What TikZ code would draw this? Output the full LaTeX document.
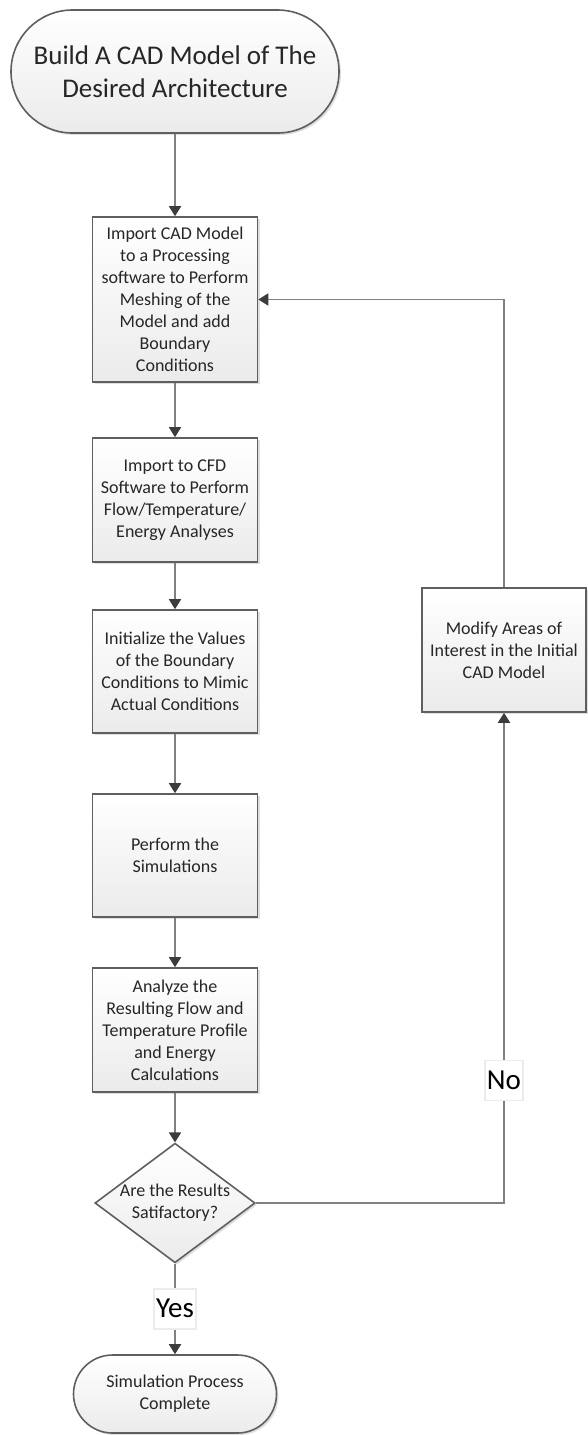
\documentclass[tikz,border=0pt]{standalone}
\usepackage{fontspec}
\setmainfont{Carlito}
\usetikzlibrary{arrows.meta,positioning,shapes.geometric,shapes.misc,shadows}

\definecolor{edgegray}{HTML}{5F5F5F}
\definecolor{linegray}{HTML}{808080}
\definecolor{tipgray}{HTML}{3C3C3C}
\definecolor{fillbot}{HTML}{EBEBEB}
\definecolor{txtgray}{HTML}{262626}

\tikzset{
  flowbox/.style={draw=edgegray, line width=1.6pt, top color=white, bottom color=fillbot,
    text=txtgray, align=center, font=\fontsize{18}{22}\selectfont,
    drop shadow={shadow xshift=2pt, shadow yshift=-2pt, opacity=0.25}},
  procbox/.style={flowbox, rectangle, minimum width=165pt, inner sep=2pt},
  termbox/.style={flowbox, rounded rectangle, inner sep=2pt},
  decbox/.style={flowbox, diamond, aspect=1.34, inner sep=0pt},
  flowline/.style={draw=linegray, line width=1.8pt, -{Triangle[length=10pt, width=12pt, color=tipgray]}},
  lbl/.style={fill=white, draw=gray!15, inner xsep=2pt, inner ysep=0pt,
    text height=29pt, text depth=11pt, text=black, font=\fontsize{29}{30}\selectfont}
}

\begin{document}
\begin{tikzpicture}[x=1pt, y=-1pt]
\useasboundingbox (0,0) rectangle (587,1435);
% main column
\node[termbox, minimum width=332pt, minimum height=123pt, font=\fontsize{27}{33}\selectfont] (start) at (175,71.5) {Build A CAD Model of The\\Desired Architecture};
\node[procbox, minimum height=165pt] (mesh) at (175,299.5) {Import CAD Model\\to a Processing\\software to Perform\\Meshing of the\\Model and add\\Boundary\\Conditions};
\node[procbox, minimum height=124pt] (cfd) at (175,500) {Import to CFD\\Software to Perform\\Flow/Temperature/\\Energy Analyses};
\node[procbox, minimum height=123pt] (init) at (175,671.5) {Initialize the Values\\of the Boundary\\Conditions to Mimic\\Actual Conditions};
\node[procbox, minimum height=123pt] (sim) at (175,855.5) {Perform the\\Simulations};
\node[procbox, minimum height=124pt] (analyze) at (175,1030) {Analyze the\\Resulting Flow and\\Temperature Profile\\and Energy\\Calculations};
\node[decbox] (check) at (175,1203) {Are the Results\\Satifactory?};
\node[termbox, minimum width=207pt, minimum height=78pt] (done) at (175,1394) {Simulation Process\\Complete};
% side branch
\node[procbox, minimum width=164pt, minimum height=124pt] (modify) at (504,650) {Modify Areas of\\Interest in the Initial\\CAD Model};
% connectors
\draw[flowline] (start) -- (mesh);
\draw[flowline] (mesh) -- (cfd);
\draw[flowline] (cfd) -- (init);
\draw[flowline] (init) -- (sim);
\draw[flowline] (sim) -- (analyze);
\draw[flowline] (analyze) -- (check);
\draw[flowline] (check) -- node[lbl] (yes) {Yes} (done);
\draw[flowline] (check.east) -| node[lbl, pos=0.625] (no) {No} (modify.south);
\draw[flowline] (modify.north) |- (mesh.east);
\end{tikzpicture}
\end{document}
